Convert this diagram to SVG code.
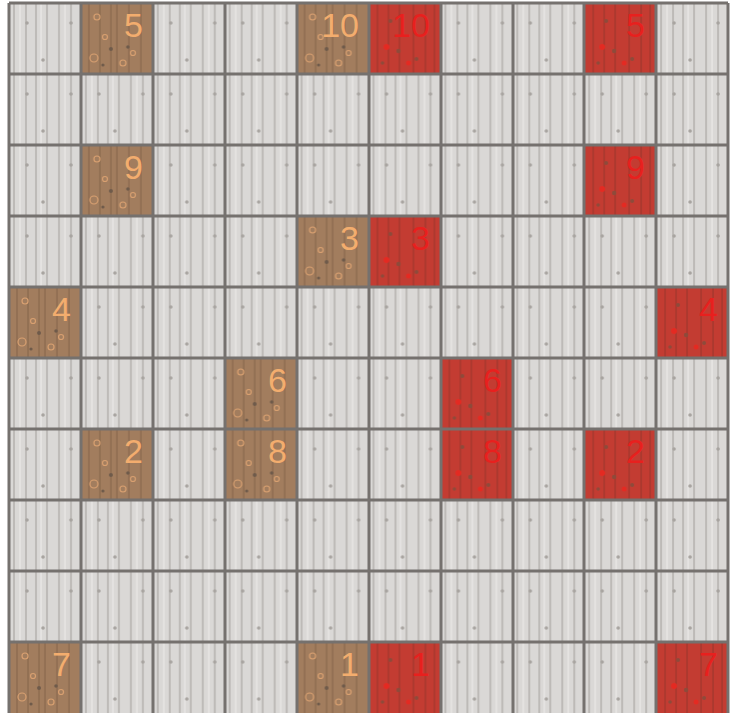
<svg xmlns="http://www.w3.org/2000/svg" width="736" height="713" viewBox="0 0 736 713">
<defs>
<pattern id="woodGray" patternUnits="userSpaceOnUse" x="9" y="3" width="71.9" height="71">
<rect width="72" height="71" fill="#dad8d6"/>
<g stroke="#bdbab7" stroke-width="2">
<line x1="5" y1="0" x2="5" y2="71"/><line x1="17" y1="0" x2="17" y2="71"/><line x1="27" y1="0" x2="27" y2="71"/>
<line x1="38" y1="0" x2="38" y2="71"/><line x1="50" y1="0" x2="50" y2="71"/><line x1="62" y1="0" x2="62" y2="71"/>
</g>
<g stroke="#e8e6e4" stroke-width="1.5">
<line x1="11" y1="0" x2="11" y2="71"/><line x1="32" y1="0" x2="32" y2="71"/><line x1="56" y1="0" x2="56" y2="71"/>
</g>
<g fill="#a8a4a0"><circle cx="18" cy="20" r="1.8"/><circle cx="62" cy="20" r="1.8"/><circle cx="34" cy="57" r="1.8"/></g>
</pattern>
<pattern id="woodBrown" patternUnits="userSpaceOnUse" x="9" y="3" width="71.9" height="71">
<rect width="72" height="71" fill="#a27d5e"/>
<g stroke="#8e6c50" stroke-width="1.5">
<line x1="8" y1="0" x2="8" y2="71"/><line x1="19" y1="0" x2="19" y2="71"/><line x1="30" y1="0" x2="30" y2="71"/>
<line x1="36" y1="0" x2="36" y2="71"/><line x1="48" y1="0" x2="48" y2="71"/><line x1="60" y1="0" x2="60" y2="71"/>
</g>
<g fill="none" stroke="#d9a070" stroke-width="1.2">
<circle cx="16" cy="14" r="3"/><circle cx="24" cy="34" r="2.5"/><circle cx="13" cy="55" r="4"/><circle cx="42" cy="60" r="3"/><circle cx="52" cy="50" r="2.5"/>
</g>
<g fill="#6e5a4a"><circle cx="30" cy="46" r="2"/><circle cx="47" cy="44" r="1.8"/><circle cx="22" cy="62" r="1.6"/></g>
</pattern>
<pattern id="woodRed" patternUnits="userSpaceOnUse" x="9" y="3" width="71.9" height="71">
<rect width="72" height="71" fill="#c33c32"/>
<g stroke="#a8382e" stroke-width="1.6">
<line x1="9" y1="0" x2="9" y2="71"/><line x1="20" y1="0" x2="20" y2="71"/><line x1="31" y1="0" x2="31" y2="71"/>
<line x1="45" y1="0" x2="45" y2="71"/><line x1="57" y1="0" x2="57" y2="71"/><line x1="66" y1="0" x2="66" y2="71"/>
</g>
<g fill="#8e4a3a"><circle cx="22" cy="18" r="2"/><circle cx="30" cy="48" r="2.2"/><circle cx="48" cy="56" r="2"/><circle cx="14" cy="60" r="1.8"/></g>
<g fill="#e42a22"><circle cx="18" cy="44" r="3"/><circle cx="40" cy="60" r="2.5"/></g>
</pattern>
</defs>
<style>
.brown{fill:url(#woodBrown)}
.red{fill:url(#woodRed)}
.bn{font-family:"Liberation Sans",Arial,sans-serif;font-size:34px;fill:#f3ad6e;text-anchor:end}
.rn{font-family:"Liberation Sans",Arial,sans-serif;font-size:34px;fill:#e8201e;text-anchor:end}
.grid{stroke:#75716e;stroke-width:3;fill:none}
</style>
<rect x="0" y="0" width="736" height="713" fill="#ffffff"/>
<rect x="9" y="3" width="719" height="710" fill="url(#woodGray)"/>

<g id="b5"><rect class="brown" x="81" y="3" width="72" height="71"/><text class="bn" x="143" y="37">5</text></g>
<g id="b10"><rect class="brown" x="297" y="3" width="72" height="71"/><text class="bn" x="359" y="37">10</text></g>
<g id="r10"><rect class="red" x="369" y="3" width="72" height="71"/><text class="rn" x="430" y="37">10</text></g>
<g id="r5"><rect class="red" x="584" y="3" width="72" height="71"/><text class="rn" x="645" y="37">5</text></g>

<g id="b9"><rect class="brown" x="81" y="145" width="72" height="71"/><text class="bn" x="143" y="179">9</text></g>
<g id="r9"><rect class="red" x="584" y="145" width="72" height="71"/><text class="rn" x="645" y="179">9</text></g>

<g id="b3"><rect class="brown" x="297" y="216" width="72" height="71"/><text class="bn" x="359" y="250">3</text></g>
<g id="r3"><rect class="red" x="369" y="216" width="72" height="71"/><text class="rn" x="430" y="250">3</text></g>

<g id="b4"><rect class="brown" x="9" y="287" width="72" height="71"/><text class="bn" x="71" y="321">4</text></g>
<g id="r4"><rect class="red" x="656" y="287" width="72" height="71"/><text class="rn" x="718" y="321">4</text></g>

<g id="b6"><rect class="brown" x="225" y="358" width="72" height="71"/><text class="bn" x="287" y="392">6</text></g>
<g id="r6"><rect class="red" x="441" y="358" width="72" height="71"/><text class="rn" x="502" y="392">6</text></g>

<g id="b2"><rect class="brown" x="81" y="429" width="72" height="71"/><text class="bn" x="143" y="463">2</text></g>
<g id="b8"><rect class="brown" x="225" y="429" width="72" height="71"/><text class="bn" x="287" y="463">8</text></g>
<g id="r8"><rect class="red" x="441" y="429" width="72" height="71"/><text class="rn" x="502" y="463">8</text></g>
<g id="r2"><rect class="red" x="584" y="429" width="72" height="71"/><text class="rn" x="645" y="463">2</text></g>

<g id="b7"><rect class="brown" x="9" y="642" width="72" height="71"/><text class="bn" x="71" y="676">7</text></g>
<g id="b1"><rect class="brown" x="297" y="642" width="72" height="71"/><text class="bn" x="359" y="676">1</text></g>
<g id="r1"><rect class="red" x="369" y="642" width="72" height="71"/><text class="rn" x="430" y="676">1</text></g>
<g id="r7"><rect class="red" x="656" y="642" width="72" height="71"/><text class="rn" x="718" y="676">7</text></g>

<g id="gridlines" class="grid">
<path d="M9 3V713M81 3V713M153 3V713M225 3V713M297 3V713M369 3V713M441 3V713M513 3V713M584 3V713M656 3V713M728 3V713"/>
<path d="M9 3H728M9 74H728M9 145H728M9 216H728M9 287H728M9 358H728M9 429H728M9 500H728M9 571H728M9 642H728"/>
</g>
</svg>
